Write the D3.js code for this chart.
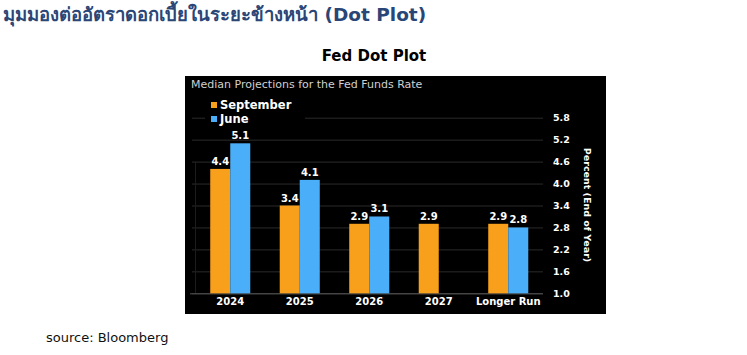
<!DOCTYPE html>
<html><head><meta charset="utf-8">
<script src="https://cdn.jsdelivr.net/npm/d3@7/dist/d3.min.js"></script>
<style>
body{margin:0;background:#fff;}
svg{display:block;}
</style></head>
<body>
<svg id="c" width="747" height="355"></svg>
<script>
const categories = ["2024","2025","2026","2027","Longer Run"];
const september = [4.4, 3.4, 2.9, 2.9, 2.9];
const june = [5.1, 4.1, 3.1, null, 2.8];
const seriesNames = ["September","June"];
const yTicks = [1.0,1.6,2.2,2.8,3.4,4.0,4.6,5.2,5.8];
const colors = {September:"#F8A01C", June:"#4BAEF8"};

const svg = d3.select("#c");
const F = "'DejaVu Sans', Verdana, sans-serif";

// page title
svg.append("text").attr("x",3).attr("y",21)
  .attr("font-family","Tahoma, 'DejaVu Sans', 'Noto Sans', sans-serif")
  .attr("font-weight","bold").attr("font-size",18.5).attr("fill","#2A4677")
  .text("มุมมองต่ออัตราดอกเบี้ยในระยะข้างหน้า (Dot Plot)");

svg.append("text").attr("x",374).attr("y",61).attr("text-anchor","middle")
  .attr("font-family","Tahoma, 'DejaVu Sans', sans-serif")
  .attr("font-weight","bold").attr("font-size",15).attr("fill","#000")
  .text("Fed Dot Plot");

svg.append("text").attr("x",46).attr("y",342)
  .attr("font-family","Tahoma, 'DejaVu Sans', sans-serif")
  .attr("font-size",13).attr("fill","#111")
  .text("source: Bloomberg");

// black panel
svg.append("rect").attr("x",185).attr("y",76).attr("width",421).attr("height",238).attr("fill","#000");

const y = d3.scaleLinear().domain([1.0,5.8]).range([293.3,117.7]);
const x = d3.scaleBand().domain(categories).range([195.5,543]).paddingInner(0.424).paddingOuter(0.212);
const xs = d3.scaleBand().domain(seriesNames).range([0,x.bandwidth()]);

// gridlines
const grid = svg.append("g").attr("transform","translate(192,0)")
  .call(d3.axisRight(y).tickValues(yTicks).tickSize(543-192).tickFormat(""));
grid.select(".domain").remove();
grid.selectAll("line").attr("stroke","#2b2b2b").attr("stroke-width",1);

// left faint line
svg.append("line").attr("x1",195.5).attr("x2",195.5).attr("y1",y(4.6)).attr("y2",y(1.0))
  .attr("stroke","#1c1c1c");

// y axis labels
const ya = svg.append("g").attr("transform","translate(553,0)")
  .call(d3.axisRight(y).tickValues(yTicks).tickSize(0).tickPadding(0).tickFormat(d3.format(".1f")));
ya.select(".domain").remove();
ya.selectAll("text").attr("font-family",F).attr("font-weight","bold").attr("font-size",9.5).attr("fill","#fff");

// baseline x axis
const xa = svg.append("g").attr("transform",`translate(0,${y(1.0)})`)
  .call(d3.axisBottom(x).tickSize(0).tickPadding(5));
xa.select(".domain").attr("stroke","#555").attr("d","M190,0.5H543");
xa.selectAll("text").attr("font-family",F).attr("font-weight","bold").attr("font-size",10).attr("fill","#fff");

// bars
const data = [];
categories.forEach((c,i)=>{
  data.push({c, s:"September", v:september[i]});
  if (june[i]!=null) data.push({c, s:"June", v:june[i]});
});
svg.append("g").selectAll("rect").data(data).join("rect")
  .attr("x",d=>x(d.c)+xs(d.s)).attr("width",xs.bandwidth())
  .attr("y",d=>y(d.v)).attr("height",d=>y(1.0)-y(d.v))
  .attr("fill",d=>colors[d.s]);
svg.append("g").selectAll("text").data(data).join("text")
  .attr("x",d=>x(d.c)+xs(d.s)+xs.bandwidth()/2).attr("y",d=>y(d.v)-4)
  .attr("text-anchor","middle").attr("font-family",F).attr("font-weight","bold")
  .attr("font-size",10).attr("fill","#fff").text(d=>d3.format(".1f")(d.v));

// panel title
svg.append("text").attr("x",191).attr("y",88).attr("font-family",F)
  .attr("font-size",11).attr("fill","#d0d0d0").text("Median Projections for the Fed Funds Rate");

// legend
const lg = svg.append("g");
lg.append("rect").attr("x",205).attr("y",96).attr("width",100).attr("height",30).attr("fill","#000");
seriesNames.forEach((s,i)=>{
  const yy = 105 + i*14;
  lg.append("rect").attr("x",211).attr("y",yy-3).attr("width",6).attr("height",6).attr("fill",colors[s]);
  lg.append("text").attr("x",220).attr("y",yy+4).attr("font-family",F).attr("font-weight","bold")
    .attr("font-size",11.5).attr("fill","#fff").text(s);
});

// y axis title
svg.append("text").attr("transform","translate(584,205) rotate(90)")
  .attr("text-anchor","middle").attr("font-family",F).attr("font-weight","bold")
  .attr("font-size",9.5).attr("fill","#fff").text("Percent (End of Year)");
</script>
</body></html>
